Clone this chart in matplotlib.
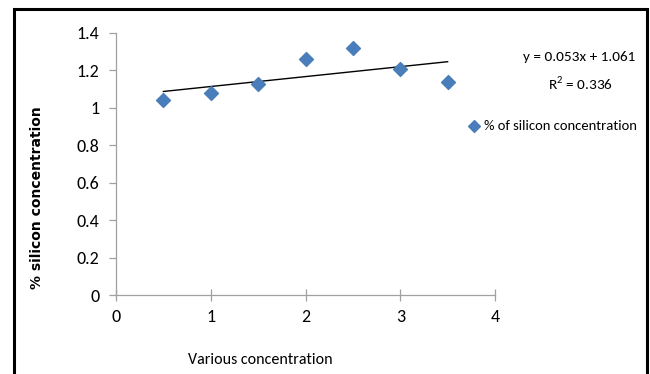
import matplotlib
matplotlib.use('Agg')
import matplotlib.pyplot as plt
from matplotlib.patches import Rectangle
import numpy as np

# data
conc = [0.5, 1.0, 1.5, 2.0, 2.5, 3.0, 3.5]
silicon = [1.04, 1.08, 1.13, 1.26, 1.32, 1.21, 1.14]
xticks = [0, 1, 2, 3, 4]
yticks = [0, 0.2, 0.4, 0.6, 0.8, 1, 1.2, 1.4]
ytick_labels = ['0', '0.2', '0.4', '0.6', '0.8', '1', '1.2', '1.4']
slope = 0.053
intercept = 1.061
r2 = 0.336

plt.rcParams['font.family'] = ['Carlito', 'DejaVu Sans']
plt.rcParams['mathtext.fontset'] = 'custom'
plt.rcParams['mathtext.rm'] = 'Carlito'

fig = plt.figure(figsize=(6.5, 3.74), dpi=100)
ax = fig.add_axes([0.1785, 0.2112, 0.583, 0.7006])

ax.scatter(conc, silicon, marker='D', s=50, color='#4a7ebb', zorder=3,
           label='% of silicon concentration')
xl = np.array([conc[0], conc[-1]])
ax.plot(xl, slope * xl + intercept, color='black', lw=1.0, zorder=2)

ax.set_xlim(0, 4)
ax.set_ylim(0, 1.4)
ax.set_xticks(xticks)
ax.set_xticklabels([str(t) for t in xticks])
ax.set_yticks(yticks)
ax.set_yticklabels(ytick_labels)
for s in ['top', 'right']:
    ax.spines[s].set_visible(False)
for s in ['left', 'bottom']:
    ax.spines[s].set_color('#a0a0a0')
    ax.spines[s].set_linewidth(0.9)
ax.tick_params(axis='both', colors='#a0a0a0', length=5, width=0.9,
               labelcolor='black', labelsize=13)
ax.tick_params(axis='x', direction='inout', length=8, pad=6)
ax.tick_params(axis='y', direction='out', pad=7)

ax.set_xlabel('Various concentration', fontsize=11.5)
ax.xaxis.set_label_coords(0.38, -0.22)
ax.set_ylabel('% silicon concentration', fontsize=10, family='DejaVu Sans',
              fontweight='bold')
ax.yaxis.set_label_coords(-0.19, 0.37)

fig.text(0.978, 0.848, 'y = 0.053x + 1.061', ha='right', va='center', fontsize=11)
fig.text(0.893, 0.778, 'R$^2$ = %.3f' % r2, ha='center', va='center', fontsize=11)

ax.legend(loc='center left', bbox_to_anchor=(0.929, 0.645), frameon=False,
          fontsize=10.5, handlelength=0.8, handletextpad=0.3, borderpad=0,
          markerscale=0.85, borderaxespad=0)

# outer frame
fig.patches.append(Rectangle((0.022, -0.01), 0.973, 0.985, transform=fig.transFigure,
                             fill=False, edgecolor='black', lw=2.2))

fig.savefig('out.png', dpi=100)
